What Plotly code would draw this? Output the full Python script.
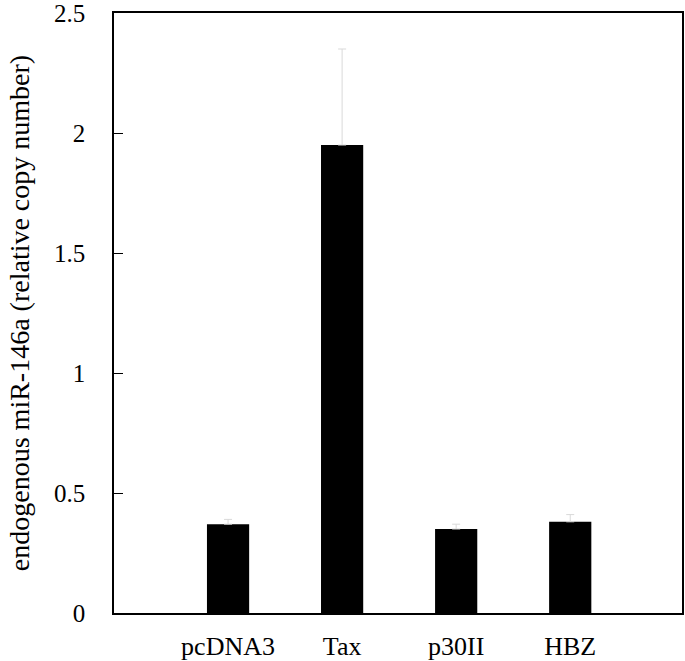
import plotly.graph_objects as go

# values
constructs = ['pcDNA3', 'Tax', 'p30II', 'HBZ']
copy_number = [0.37, 1.95, 0.35, 0.38]
err_plus = [0.02, 0.40, 0.02, 0.03]
ytick_vals = [0, 0.5, 1, 1.5, 2, 2.5]
ytick_text = ['0', '0.5', '1', '1.5', '2', '2.5']

font_family = 'Liberation Serif'
pos = list(range(len(constructs)))

fig = go.Figure()
fig.add_trace(go.Bar(
    x=pos, y=copy_number, width=0.37,
    marker=dict(color='black', line=dict(width=0)),
    error_y=dict(type='data', array=err_plus, symmetric=False, arrayminus=[0] * 4,
                 color='#d9d9d9', thickness=1, width=4),
))

# y title as a rotated annotation so its place and size are fixed
fig.add_annotation(text='endogenous miR-146a (relative copy number)',
                   xref='paper', yref='paper', x=-0.167, y=0.5,
                   xanchor='center', yanchor='middle', textangle=-90,
                   showarrow=False, font=dict(size=28))

fig.update_layout(
    width=685, height=661,
    margin=dict(l=114, r=3, t=13, b=48, autoexpand=False),
    paper_bgcolor='white', plot_bgcolor='white',
    showlegend=False,
    font=dict(family=font_family, size=25, color='black'),
    xaxis=dict(range=[-1, 3.98], tickvals=pos, ticktext=constructs, ticks='',
               tickfont=dict(size=26),
               showline=True, linecolor='black', linewidth=1.5, mirror=True,
               showgrid=False, zeroline=False, ticklabelstandoff=9, automargin=False,
               ticklabeloverflow='allow'),
    yaxis=dict(range=[0, 2.5], tickvals=ytick_vals, ticktext=ytick_text,
               ticks='inside', ticklen=9, tickwidth=1, tickcolor='black',
               showline=True, linecolor='black', linewidth=1.5, mirror=True,
               showgrid=False, zeroline=False, ticklabelstandoff=22, automargin=False,
               ticklabeloverflow='allow'),
)

fig.write_html('out.html', config={'displayModeBar': False},
               post_script="document.body.style.margin='0';")
